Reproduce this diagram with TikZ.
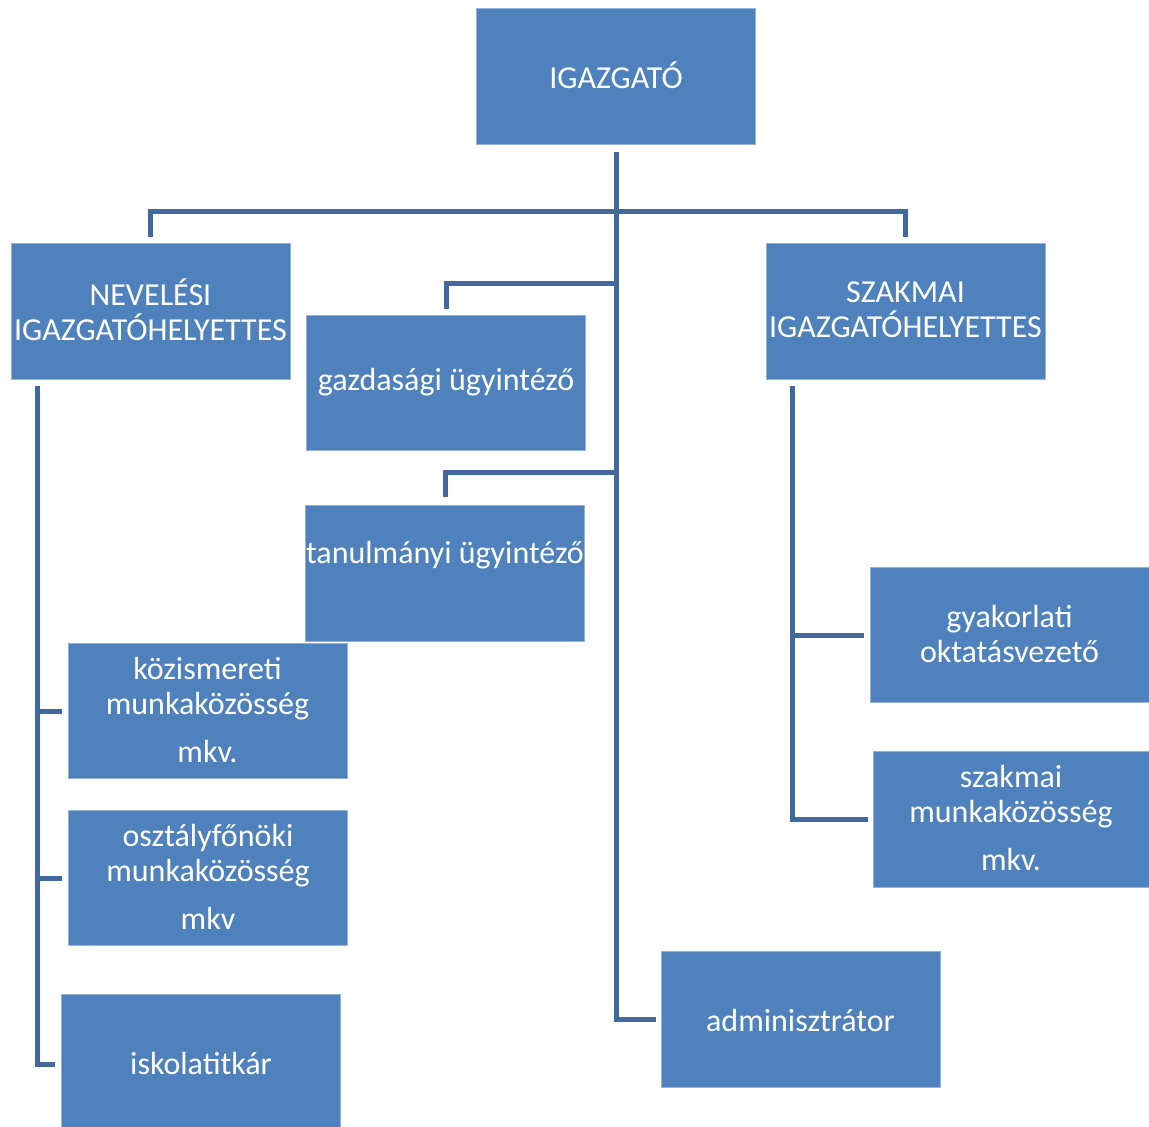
\documentclass[tikz,border=0pt]{standalone}
\usepackage{fontspec}
\setmainfont{Carlito}
\definecolor{boxblue}{HTML}{4F81BD}
\definecolor{lineblue}{HTML}{41699E}
\begin{document}
\begin{tikzpicture}[x=1pt,y=-1pt,
  box/.style={fill=boxblue, draw=boxblue!60!white, line width=0.8pt, inner sep=0pt, minimum width=#1, minimum height=135.5pt, anchor=center},
  box/.default=279pt,
  txt/.style={text=white, align=center, inner sep=0pt, font=\fontsize{32}{35}\selectfont},
  conn/.style={draw=lineblue, line width=5pt}]
\useasboundingbox (0,0) rectangle (1149,1127);
% boxes
\node[box] (igaz) at (616,76.5) {};
\node[box] (nev) at (150.5,311.5) {};
\node[box] (szak) at (905.5,311.5) {};
\node[box] (gazd) at (446,383) {};
\node[box] (tan) at (445,573.5) {};
\node[box] (koz) at (207.5,711) {};
\node[box] (osz) at (208,878) {};
\node[box, minimum height=140pt] (isk) at (201,1064) {};
\node[box] (adm) at (800.5,1019.5) {};
\node[box] (gyak) at (1009.5,635) {};
\node[box, minimum width=276pt] (szm) at (1011,819.5) {};
% texts
\node[txt] (tigaz) at (616,75) {IGAZGATÓ};
\node[txt] (tnev) at (150.5,310) {NEVELÉSI\\IGAZGATÓHELYETTES};
\node[txt] (tszak) at (905.5,310) {SZAKMAI\\IGAZGATÓHELYETTES};
\node[txt] (tgazd) at (446,382) {gazdasági ügyintéző};
\node[txt] (ttan) at (445,555) {tanulmányi ügyintéző};
\node[txt, anchor=north] (tkoz) at (207.5,657) {közismereti\\munkaközösség\\[13pt]mkv.};
\node[txt, anchor=north] (tosz) at (208,824) {osztályfőnöki\\munkaközösség\\[13pt]mkv};
\node[txt] (tisk) at (201,1063) {iskolatitkár};
\node[txt] (tadm) at (800.5,1020) {adminisztrátor};
\node[txt] (tgyak) at (1009.5,634.5) {gyakorlati\\oktatásvezető};
\node[txt, anchor=north] (tszm) at (1011,765) {szakmai\\munkaközösség\\[13pt]mkv.};
% junction coordinates
\coordinate (jtop) at (616,211);
\coordinate (jg) at (616,283);
\coordinate (jt) at (616,472);
\coordinate (ltop) at (37,386);
\coordinate (rtop) at (792,386);
% connectors
\draw[conn] ([yshift=-7pt]igaz.south) |- ([xshift=-5pt]adm.west);
\draw[conn] ([yshift=6pt]nev.north) |- (jtop) -| ([yshift=6pt]szak.north);
\draw[conn] (jg) -| ([yshift=6pt]gazd.north);
\draw[conn] (jt) -| ([yshift=8pt]tan.north);
\draw[conn] (ltop) |- ([xshift=-6pt]isk.west);
\draw[conn] (ltop |- koz.west) -- ([xshift=-6pt]koz.west);
\draw[conn] (ltop |- osz.west) -- ([xshift=-6pt]osz.west);
\draw[conn] (rtop) |- ([xshift=-5pt]szm.west);
\draw[conn] (rtop |- gyak.west) -- ([xshift=-6pt]gyak.west);
\end{tikzpicture}
\end{document}
